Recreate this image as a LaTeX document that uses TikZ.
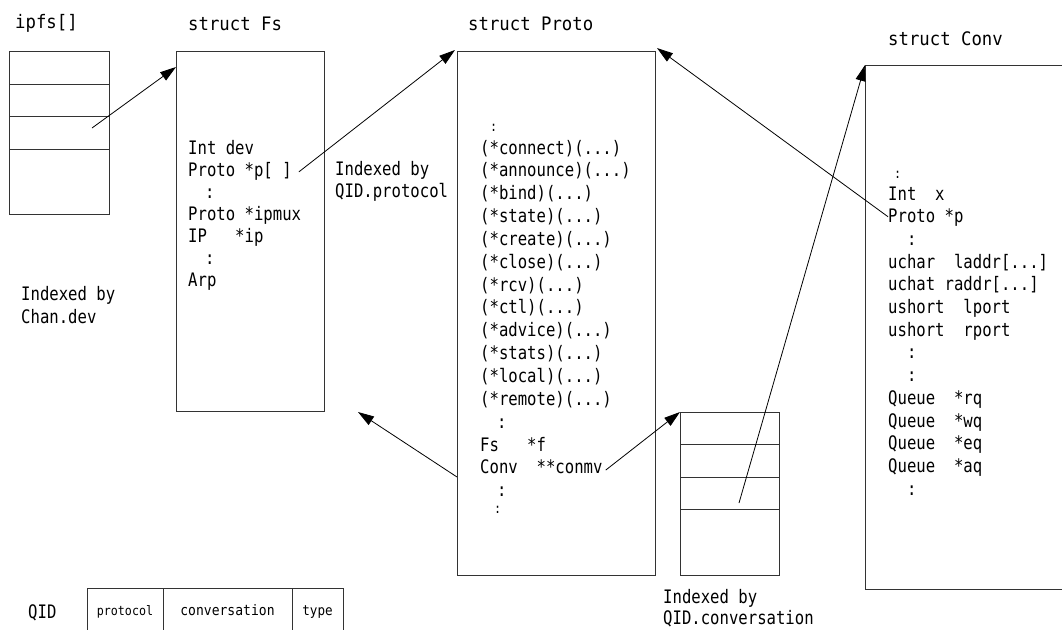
\documentclass[tikz,border=0pt]{standalone}
\usepackage{fontspec}
\usetikzlibrary{arrows.meta}
\newfontfamily\gfont[FakeStretch=0.84]{DejaVu Sans Mono}
\newfontfamily\tfont[FakeStretch=0.93]{DejaVu Sans Mono}
\newfontfamily\qfont[FakeStretch=0.9]{DejaVu Sans Mono}
\begin{document}
\begin{tikzpicture}[x=1pt,y=-1pt,
  box/.style={draw=black!80,line width=0.9pt,inner sep=0pt,outer sep=0pt,anchor=north west},
  txt/.style={anchor=base west,inner sep=0pt,font=\gfont\fontsize{18.6}{20}\selectfont},
  sm/.style={anchor=base west,inner sep=0pt,font=\gfont\fontsize{14}{16}\selectfont},
  ttl/.style={anchor=base west,inner sep=0pt,font=\tfont\fontsize{18.6}{20}\selectfont},
  cell/.style={anchor=base,inner sep=0pt,font=\qfont\fontsize{#1}{16}\selectfont},
  arr/.style={line width=0.8pt,-{Triangle[length=16pt,width=10pt]}},
  sep/.style={draw=black!80,line width=0.9pt}]
\useasboundingbox (0,0) rectangle (1062,629);
\begin{scope}
\clip (0,0) rectangle (1062,629);
% titles
\node[ttl] (tipfs) at (15,28) {ipfs[]};
\node[ttl] (tfs) at (188,30) {struct Fs};
\node[ttl] (tproto) at (468,30) {struct Proto};
\node[ttl] (tconv) at (888,45) {struct Conv};
% ipfs array
\node[box,minimum width=100pt,minimum height=163pt] (ipfs) at (9,51) {};
\draw[sep] (9,84) -- (109,84) (9,116) -- (109,116) (9,149) -- (109,149);
\coordinate (ipfsslot) at (92,128);
% struct Fs
\node[box,minimum width=148pt,minimum height=360pt] (fs) at (176,51) {};
\node[txt] (fs1) at (188,154) {Int dev};
\node[txt] (fs2) at (188,176) {Proto *p[ ]};
\node[txt] (fs3) at (205,198) {:};
\node[txt] (fs4) at (188,220) {Proto *ipmux};
\node[txt] (fs5) at (188,242) {IP~~~*ip};
\node[txt] (fs6) at (205,264) {:};
\node[txt] (fs7) at (188,286) {Arp};
\node[txt] (ichan1) at (21,300) {Indexed by};
\node[txt] (ichan2) at (21,323) {Chan.dev};
\node[txt] (iprot1) at (335,175) {Indexed by};
\node[txt] (iprot2) at (335,197) {QID.protocol};
% struct Proto
\node[box,minimum width=198pt,minimum height=524pt] (proto) at (457,51) {};
\node[sm] (pr0) at (490,131) {:};
\node[txt] (pr1) at (480,154.0) {(*connect)(...)};
\node[txt] (pr2) at (480,176.85) {(*announce)(...)};
\node[txt] (pr3) at (480,199.7) {(*bind)(...)};
\node[txt] (pr4) at (480,222.55) {(*state)(...)};
\node[txt] (pr5) at (480,245.4) {(*create)(...)};
\node[txt] (pr6) at (480,268.25) {(*close)(...)};
\node[txt] (pr7) at (480,291.1) {(*rcv)(...)};
\node[txt] (pr8) at (480,313.95) {(*ctl)(...)};
\node[txt] (pr9) at (480,336.8) {(*advice)(...)};
\node[txt] (pr10) at (480,359.65) {(*stats)(...)};
\node[txt] (pr11) at (480,382.5) {(*local)(...)};
\node[txt] (pr12) at (480,405.35) {(*remote)(...)};
\node[txt] (pr13) at (497,428.2) {:};
\node[txt] (pr14) at (480,451.05) {Fs~~~*f};
\node[txt] (pr15) at (480,473.9) {Conv~~**conmv};
\node[txt] (pr16) at (497,496.75) {:};
\node[sm] (pr17) at (494,513) {:};
% conversation array
\node[box,minimum width=99pt,minimum height=163pt] (convs) at (680,412) {};
\draw[sep] (680,444) -- (779,444) (680,477) -- (779,477) (680,509) -- (779,509);
\coordinate (convslot) at (739,503);
\node[txt] (iconv1) at (663,603) {Indexed by};
\node[txt] (iconv2) at (663,624) {QID.conversation};
% struct Conv
\node[box,minimum width=260pt,minimum height=524pt] (conv) at (865,65) {};
\node[sm] (cv0) at (894,178) {:};
\node[txt] (cv1) at (888,200.0) {Int~~x};
\node[txt] (cv2) at (888,222.7) {Proto *p};
\node[txt] (cv3) at (907,245.4) {:};
\node[txt] (cv4) at (888,268.1) {uchar~~laddr[...]};
\node[txt] (cv5) at (888,290.8) {uchat raddr[...]};
\node[txt] (cv6) at (888,313.5) {ushort~~lport};
\node[txt] (cv7) at (888,336.2) {ushort~~rport};
\node[txt] (cv8) at (907,358.9) {:};
\node[txt] (cv9) at (907,381.6) {:};
\node[txt] (cv10) at (888,404.3) {Queue~~*rq};
\node[txt] (cv11) at (888,427.0) {Queue~~*wq};
\node[txt] (cv12) at (888,449.7) {Queue~~*eq};
\node[txt] (cv13) at (888,472.4) {Queue~~*aq};
\node[txt] (cv14) at (907,495.1) {:};
% QID
\node[txt] (qid) at (28,618) {QID};
\node[box,minimum width=256pt,minimum height=60pt] (qtab) at (87,588) {};
\draw[sep] (163,588) -- (163,648) (292,588) -- (292,648);
\node[cell=13] (qp) at (125,615) {protocol};
\node[cell=14.5] (qc) at (227.5,615) {conversation};
\node[cell=14] (qt) at (317.5,615) {type};
% connectors
\draw[arr] (ipfsslot) -- ([yshift=-16pt]fs.north west);
\draw[arr] ([xshift=7pt,yshift=-1pt]fs2.east) -- ([xshift=-2pt,yshift=1pt]proto.north west);
\draw[arr] ([yshift=98pt]proto.south west) -- ([xshift=34pt,yshift=-1pt]fs.south east);
\draw[arr] ([xshift=3pt,yshift=-3pt]pr15.east) -- (convs.north west);
\draw[arr] (convslot) -- (conv.north west);
\draw[arr] ([yshift=1pt]cv2.west) -- ([xshift=2pt,yshift=3pt]proto.north east);
\end{scope}
\end{tikzpicture}
\end{document}
